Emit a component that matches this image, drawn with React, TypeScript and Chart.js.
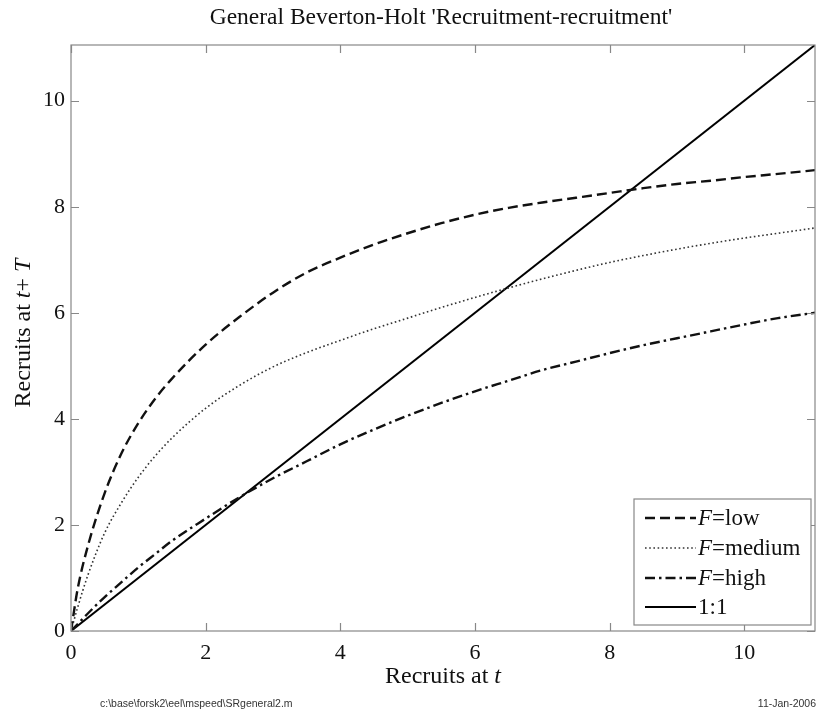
import React, { useEffect, useRef } from "react";
import { Chart, registerables } from "chart.js";

Chart.register(...registerables);

// ---------- data ----------
const titleText = "General Beverton-Holt 'Recruitment-recruitment'";
const footerLeft = "c:\\base\\forsk2\\eel\\mspeed\\SRgeneral2.m";
const footerRight = "11-Jan-2006";

const axisMax = 11.05;
const xTickValues = [0, 2, 4, 6, 8, 10];
const yTickValues = [0, 2, 4, 6, 8, 10];

const recruitsT = [0, 0.1, 0.25, 0.5, 0.75, 1, 1.25, 1.5, 2, 2.5, 3, 3.5, 4, 4.5, 5, 5.5, 6, 6.5, 7, 7.5, 8, 8.5, 9, 9.5, 10, 10.5, 11.05];
const fLow = [0, 0.8, 1.6, 2.6, 3.35, 3.92, 4.38, 4.76, 5.4, 5.92, 6.38, 6.76, 7.04, 7.29, 7.5, 7.69, 7.85, 7.98, 8.08, 8.17, 8.26, 8.35, 8.43, 8.49, 8.56, 8.62, 8.69];
const fMedium = [0, 0.45, 1.05, 1.85, 2.42, 2.9, 3.3, 3.64, 4.2, 4.63, 4.98, 5.25, 5.48, 5.7, 5.9, 6.1, 6.29, 6.47, 6.64, 6.8, 6.95, 7.08, 7.2, 7.31, 7.41, 7.5, 7.6];
const fHigh = [0, 0.13, 0.33, 0.64, 0.92, 1.2, 1.45, 1.7, 2.12, 2.52, 2.88, 3.2, 3.52, 3.8, 4.06, 4.3, 4.52, 4.72, 4.92, 5.08, 5.24, 5.39, 5.52, 5.65, 5.78, 5.9, 6.0];
const oneToOneX = [0, 11.05];
const oneToOneY = [0, 11.05];

const legendLabels = [
  [{ t: "F", i: true }, { t: "=low", i: false }],
  [{ t: "F", i: true }, { t: "=medium", i: false }],
  [{ t: "F", i: true }, { t: "=high", i: false }],
  [{ t: "1:1", i: false }],
];

const SERIF = "'Liberation Serif', 'Times New Roman', serif";
const SANS = "'Liberation Sans', Arial, sans-serif";

type Run = { t: string; i: boolean };

function drawRuns(ctx: CanvasRenderingContext2D, runs: Run[], x: number, y: number, size: number, align: "left" | "center") {
  let total = 0;
  const widths = runs.map((r) => {
    ctx.font = `${r.i ? "italic " : ""}${size}px ${SERIF}`;
    const w = ctx.measureText(r.t).width;
    total += w;
    return w;
  });
  let cx = align === "center" ? x - total / 2 : x;
  runs.forEach((r, k) => {
    ctx.font = `${r.i ? "italic " : ""}${size}px ${SERIF}`;
    ctx.textAlign = "left";
    ctx.fillText(r.t, cx, y);
    cx += widths[k];
  });
}

const styles = [
  { dash: [10, 5], width: 2.4, color: "#111" },
  { dash: [1.6, 2.6], width: 1.6, color: "#333" },
  { dash: [10, 4, 2.5, 4], width: 2.4, color: "#111" },
  { dash: [], width: 2, color: "#000" },
];

const decorPlugin = {
  id: "decor",
  afterDatasetsDraw(chart: any) {
    const { ctx, chartArea: a, scales } = chart;
    const xs = scales.x;
    const ys = scales.y;
    ctx.save();
    // axes box
    ctx.strokeStyle = "#888";
    ctx.lineWidth = 1.2;
    ctx.setLineDash([]);
    ctx.strokeRect(a.left, a.top, a.right - a.left, a.bottom - a.top);
    // inward ticks
    const tl = 8;
    ctx.beginPath();
    xTickValues.forEach((v) => {
      const px = Math.round(xs.getPixelForValue(v)) + 0.5;
      ctx.moveTo(px, a.bottom);
      ctx.lineTo(px, a.bottom - tl);
      ctx.moveTo(px, a.top);
      ctx.lineTo(px, a.top + tl);
    });
    yTickValues.forEach((v) => {
      const py = Math.round(ys.getPixelForValue(v)) + 0.5;
      ctx.moveTo(a.left, py);
      ctx.lineTo(a.left + tl, py);
      ctx.moveTo(a.right, py);
      ctx.lineTo(a.right - tl, py);
    });
    ctx.stroke();

    // legend
    const lx = 634, ly = 499, lw = 177, lh = 126;
    ctx.fillStyle = "#fff";
    ctx.fillRect(lx, ly, lw, lh);
    ctx.strokeStyle = "#888";
    ctx.lineWidth = 1.2;
    ctx.strokeRect(lx, ly, lw, lh);
    const rows = [518, 548, 578, 607];
    rows.forEach((ry, k) => {
      const s = styles[k];
      ctx.strokeStyle = s.color;
      ctx.lineWidth = s.width;
      ctx.setLineDash(s.dash);
      ctx.beginPath();
      ctx.moveTo(645, ry);
      ctx.lineTo(696, ry);
      ctx.stroke();
      ctx.setLineDash([]);
      ctx.fillStyle = "#111";
      ctx.textBaseline = "middle";
      drawRuns(ctx, legendLabels[k] as Run[], 698, ry + 1, 23, "left");
    });

    // title
    ctx.fillStyle = "#111";
    ctx.textBaseline = "middle";
    drawRuns(ctx, [{ t: titleText, i: false }], 441, 18, 23.5, "center");
    // x title
    drawRuns(ctx, [{ t: "Recruits at ", i: false }, { t: "t", i: true }], 443, 677, 24, "center");
    // y title
    ctx.save();
    ctx.translate(24, 333);
    ctx.rotate(-Math.PI / 2);
    drawRuns(ctx, [{ t: "Recruits at ", i: false }, { t: "t", i: true }, { t: "+", i: false }, { t: " T", i: true }], 0, 0, 24, "center");
    ctx.restore();
    // footers
    ctx.fillStyle = "#333";
    ctx.font = `10.5px ${SANS}`;
    ctx.textAlign = "left";
    ctx.fillText(footerLeft, 100, 704);
    ctx.textAlign = "right";
    ctx.fillText(footerRight, 816, 704);
    ctx.restore();
  },
};

export default function App() {
  const ref = useRef<HTMLCanvasElement | null>(null);
  useEffect(() => {
    document.body.style.margin = "0";
    const canvas = ref.current!;
    const mk = (ys: number[], k: number, xsArr: number[] = recruitsT) => ({
      label: "s" + k,
      data: xsArr.map((x, i) => ({ x, y: ys[i] })),
      borderColor: styles[k].color,
      borderWidth: styles[k].width,
      borderDash: styles[k].dash,
      pointRadius: 0,
      fill: false,
      cubicInterpolationMode: "monotone" as const,
    });
    const chart = new Chart(canvas, {
      type: "line",
      data: {
        datasets: [mk(fLow, 0), mk(fMedium, 1), mk(fHigh, 2), mk(oneToOneY, 3, oneToOneX)],
      },
      plugins: [decorPlugin],
      options: {
        responsive: false,
        animation: false,
        devicePixelRatio: 1,
        layout: { padding: { top: 45, right: 2, left: 0, bottom: 0 } },
        plugins: { legend: { display: false }, tooltip: { enabled: false }, title: { display: false } },
        scales: {
          x: {
            type: "linear",
            min: 0,
            max: axisMax,
            afterBuildTicks: (s: any) => {
              s.ticks = xTickValues.map((v) => ({ value: v }));
            },
            afterFit: (s: any) => {
              s.height = 82;
            },
            grid: { display: false, drawTicks: false },
            border: { display: false },
            ticks: {
              padding: 9,
              maxRotation: 0,
              color: "#111",
              font: { family: SERIF, size: 22 },
              callback: (v: any) => String(v),
            },
          },
          y: {
            type: "linear",
            min: 0,
            max: axisMax,
            afterBuildTicks: (s: any) => {
              s.ticks = yTickValues.map((v) => ({ value: v }));
            },
            afterFit: (s: any) => {
              s.width = 71;
            },
            grid: { display: false, drawTicks: false },
            border: { display: false },
            ticks: {
              padding: 6,
              color: "#111",
              font: { family: SERIF, size: 22 },
              callback: (v: any) => String(v),
            },
          },
        },
      },
    });
    return () => chart.destroy();
  }, []);
  return (
    <div style={{ position: "fixed", left: 0, top: 0, width: 817, height: 713, background: "#fff" }}>
      <canvas ref={ref} width={817} height={713} style={{ width: 817, height: 713, display: "block" }} />
    </div>
  );
}
